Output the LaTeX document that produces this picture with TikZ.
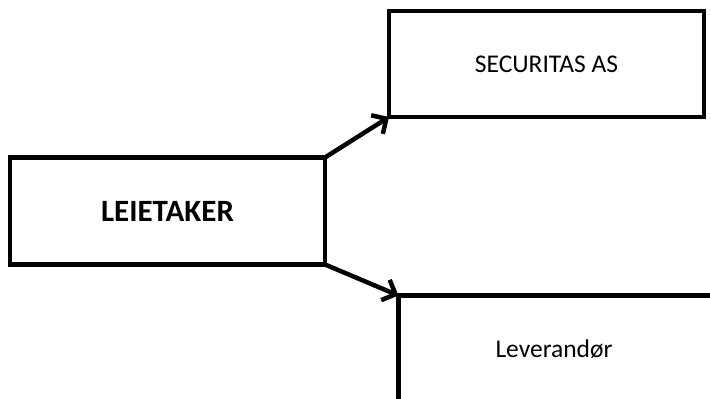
\documentclass[tikz,border=0pt]{standalone}
\usepackage{fontspec}
\setmainfont{Carlito}
\usetikzlibrary{arrows.meta}
\begin{document}
\begin{tikzpicture}[x=1pt,y=-1pt,
  box/.style={draw=black,line width=4.5pt,minimum width=315pt,minimum height=106pt,outer sep=0pt,inner sep=0pt,fill=white},
  conn/.style={line width=4.5pt,-{Straight Barb[length=11pt,width=22pt]}},
  lbl/.style={font=\fontsize{25.5}{30}\selectfont}]
\useasboundingbox[fill=white] (0,0) rectangle (710,399);
\node[box,minimum height=107pt,font=\bfseries\fontsize{31}{36}\selectfont] (lei) at (167.5,211) {LEIETAKER};
\node[box,lbl] (sec) at (546.5,64) {SECURITAS AS};
\coordinate (levc) at (398.5,295.5);
\draw[line width=4.5pt,line join=miter] (398.5,420) -- (levc) -- (730,295.5);
\node[lbl] (lev) at (554,349) {Leverandør};
\draw[conn] (lei.north east) -- (sec.south west);
\draw[conn] (lei.south east) -- (levc);
\end{tikzpicture}
\end{document}
